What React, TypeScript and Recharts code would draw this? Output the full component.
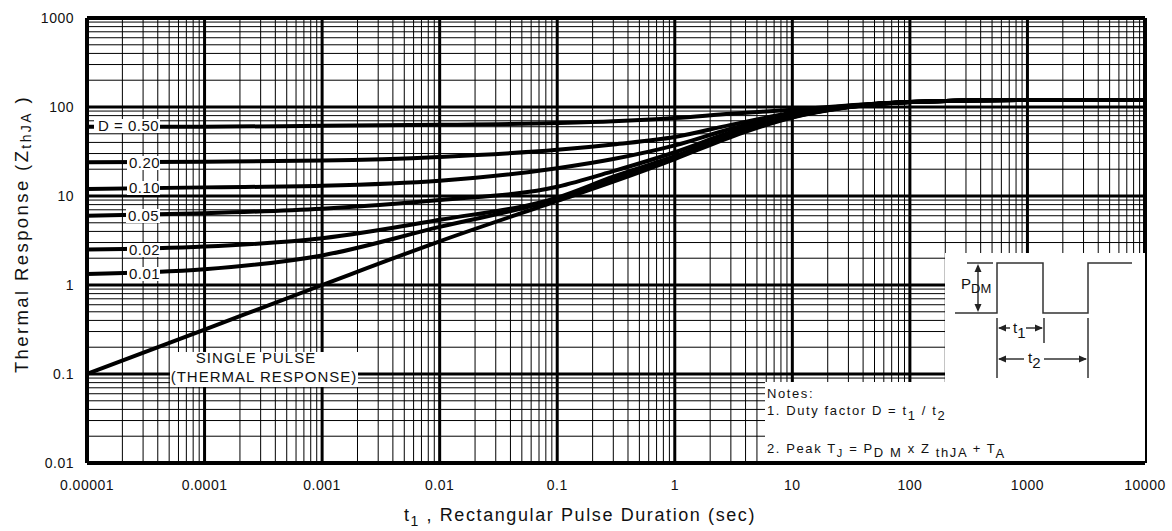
import React from 'react';
import { LineChart, Line, XAxis, YAxis, ReferenceLine } from 'recharts';

// pulse duration t1 (sec) where the curves were read
const T_SEC = [1e-5, 1e-4, 1e-3, 1e-2, 1e-1, 0.3, 1, 3, 10, 30, 100, 1000, 1e4];
// Z thJA, one list per duty factor
const D_050 = [60, 60, 61.5, 63, 66, 69, 75, 84, 93, 104, 114, 120, 120];
const D_020 = [24, 24.3, 25, 27.5, 33, 38, 46, 63, 86, 103, 114, 120, 120];
const D_010 = [12, 12.5, 13, 14.8, 20.5, 26, 37, 57, 83, 102, 114, 120, 120];
const D_005 = [6, 6.4, 7.2, 9, 12.7, 19, 31, 52, 80, 101, 114, 120, 120];
const D_002 = [2.5, 2.7, 3.35, 5.4, 9.6, 16.5, 28, 49, 78, 100, 114, 120, 120];
const D_001 = [1.33, 1.5, 2.15, 4.5, 9.3, 15.5, 27, 48, 77, 100, 114, 120, 120];
const SINGLE = [0.1, 0.316, 1.0, 3.1, 8.8, 14.5, 26, 46, 76, 99, 114, 120, 120];

const X_TICKS = [1e-5, 1e-4, 1e-3, 1e-2, 1e-1, 1, 10, 100, 1000, 10000];
const X_TICK_LABELS = ['0.00001', '0.0001', '0.001', '0.01', '0.1', '1', '10', '100', '1000', '10000'];
const Y_TICKS = [0.01, 0.1, 1, 10, 100, 1000];
const Y_TICK_LABELS = ['0.01', '0.1', '1', '10', '100', '1000'];
const MINOR_STEPS = [2, 3, 4, 5, 6, 7, 8, 9];

const SERIES = ['d050', 'd020', 'd010', 'd005', 'd002', 'd001', 'single'];

const FONT = '"Liberation Sans", Arial, sans-serif';

const data = T_SEC.map((t, i) => ({
  t,
  d050: D_050[i],
  d020: D_020[i],
  d010: D_010[i],
  d005: D_005[i],
  d002: D_002[i],
  d001: D_001[i],
  single: SINGLE[i],
}));

const xMinor = X_TICKS.slice(0, -1).flatMap(d => MINOR_STEPS.map(m => m * d));
const yMinor = Y_TICKS.slice(0, -1).flatMap(d => MINOR_STEPS.map(m => m * d));

const D_LABELS = [
  { text: 'D = 0.50', x: 98, y: 126, boxX: 94 },
  { text: '0.20', x: 129, y: 163, boxX: 127 },
  { text: '0.10', x: 129, y: 188, boxX: 127 },
  { text: '0.05', x: 128, y: 216, boxX: 126 },
  { text: '0.02', x: 129, y: 250, boxX: 127 },
  { text: '0.01', x: 129, y: 274, boxX: 127 },
];

const Arrow = ({ x, y, dir }: { x: number; y: number; dir: 'up' | 'down' | 'left' | 'right' }) => {
  const s = 8;
  const w = 3.5;
  let pts = '';
  if (dir === 'up') pts = `${x},${y} ${x - w},${y + s} ${x + w},${y + s}`;
  if (dir === 'down') pts = `${x},${y} ${x - w},${y - s} ${x + w},${y - s}`;
  if (dir === 'left') pts = `${x},${y} ${x + s},${y - w} ${x + s},${y + w}`;
  if (dir === 'right') pts = `${x},${y} ${x - s},${y - w} ${x - s},${y + w}`;
  return <polygon points={pts} fill="#222" />;
};

function Overlay() {
  const ln = { stroke: '#333', strokeWidth: 1.5, fill: 'none' };
  return (
    <svg width={1172} height={531} style={{ position: 'absolute', left: 0, top: 0, pointerEvents: 'none' }} fontFamily={FONT}>
      {/* curve labels */}
      {D_LABELS.map(l => (
        <g key={l.text}>
          <rect x={l.boxX} y={l.y - 7} width={160 - l.boxX} height={14} fill="#fff" />
          <text x={l.x} y={l.y + 5} fontSize={15} letterSpacing={0.5} fill="#111">{l.text}</text>
        </g>
      ))}
      <rect x={170} y={352} width={188} height={35} fill="#fff" />
      <text x={256} y={363} fontSize={15} letterSpacing={1} textAnchor="middle" fill="#111">SINGLE PULSE</text>
      <text x={264} y={382} fontSize={15} letterSpacing={1} textAnchor="middle" fill="#111">(THERMAL RESPONSE)</text>

      {/* inset and notes */}
      <rect x={945} y={253} width={200} height={130} fill="#fff" />
      <rect x={765} y={382} width={380} height={79} fill="#fff" />
      <polyline points="955,313 997,313 997,263 1043,263 1043,313 1088,313 1088,263 1132,263" {...ln} />
      <line x1={967} y1={263} x2={993} y2={263} {...ln} />
      <line x1={978} y1={266} x2={978} y2={310} {...ln} />
      <Arrow x={978} y={264} dir="up" />
      <Arrow x={978} y={312} dir="down" />
      <text x={961} y={289} fontSize={15} fill="#111">P<tspan dy={4} fontSize={13}>DM</tspan></text>
      <line x1={997} y1={318} x2={997} y2={378} {...ln} />
      <line x1={1044} y1={318} x2={1044} y2={343} {...ln} />
      <line x1={1088} y1={318} x2={1088} y2={378} {...ln} />
      <line x1={999} y1={328} x2={1010} y2={328} {...ln} />
      <line x1={1026} y1={328} x2={1042} y2={328} {...ln} />
      <Arrow x={998} y={328} dir="left" />
      <Arrow x={1043} y={328} dir="right" />
      <text x={1013} y={333} fontSize={15} fill="#111">t<tspan dy={5} fontSize={15}>1</tspan></text>
      <line x1={999} y1={359} x2={1024} y2={359} {...ln} />
      <line x1={1044} y1={359} x2={1086} y2={359} {...ln} />
      <Arrow x={998} y={359} dir="left" />
      <Arrow x={1087} y={359} dir="right" />
      <text x={1028} y={363} fontSize={15} fill="#111">t<tspan dy={5} fontSize={15}>2</tspan></text>

      <text x={767} y={398} fontSize={13} letterSpacing={1.6} fill="#111">Notes:</text>
      <text x={767} y={415} fontSize={13} letterSpacing={1.6} fill="#111">
        1. Duty factor D =  t<tspan dy={5}>1</tspan><tspan dy={-5}> / t</tspan><tspan dy={5}>2</tspan>
      </text>
      <text x={767} y={453} fontSize={13} letterSpacing={1.6} fill="#111">
        2. Peak T<tspan dy={4} fontSize={11}>J</tspan><tspan dy={-4}> = P</tspan><tspan dy={4}>D M</tspan>
        <tspan dy={-4}> x Z </tspan><tspan dy={4}>thJA</tspan><tspan dy={-4}> + T</tspan><tspan dy={5}>A</tspan>
      </text>

      {/* axis titles */}
      <text transform="rotate(-90, 21, 234)" x={21} y={234} fontSize={18.5} letterSpacing={2.4} textAnchor="middle" dominantBaseline="central" fill="#111">
        Thermal Response (Z<tspan dy={5} fontSize={14}>thJA</tspan><tspan dy={-5}> )</tspan>
      </text>
      <text x={580} y={521} fontSize={18} letterSpacing={1.6} textAnchor="middle" fill="#111">
        t<tspan dy={5} fontSize={14}>1</tspan><tspan dy={-5}> , Rectangular Pulse Duration (sec)</tspan>
      </text>
    </svg>
  );
}

export default function App() {
  return (
    <div style={{ position: 'absolute', left: 0, top: 0, width: 1172, height: 531, background: '#fff' }}>
      <LineChart width={1172} height={531} data={data} margin={{ top: 18, right: 27, bottom: 0, left: 0 }}>
        <XAxis
          dataKey="t"
          type="number"
          scale="log"
          domain={[1e-5, 1e4]}
          allowDataOverflow
          ticks={X_TICKS}
          interval={0}
          height={68}
          tickLine={false}
          axisLine={false}
          tickSize={0}
          tickMargin={17}
          tick={{ fontSize: 14, fill: '#111', fontFamily: FONT, letterSpacing: 0.5 }}
          tickFormatter={v => X_TICK_LABELS[X_TICKS.indexOf(v)] ?? String(v)}
        />
        <YAxis
          type="number"
          scale="log"
          domain={[0.01, 1000]}
          allowDataOverflow
          ticks={Y_TICKS}
          interval={0}
          width={87}
          tickLine={false}
          axisLine={false}
          tickSize={0}
          tickMargin={13}
          tick={{ fontSize: 14, fill: '#111', fontFamily: FONT, letterSpacing: 0.5 }}
          tickFormatter={v => Y_TICK_LABELS[Y_TICKS.indexOf(v)] ?? String(v)}
        />
        {xMinor.map(v => <ReferenceLine key={'xm' + v} x={v} stroke="#000" strokeWidth={1} />)}
        {yMinor.map(v => <ReferenceLine key={'ym' + v} y={v} stroke="#000" strokeWidth={1} />)}
        {X_TICKS.slice(1, -1).map(v => <ReferenceLine key={'xM' + v} x={v} stroke="#000" strokeWidth={3} />)}
        {Y_TICKS.slice(1, -1).map(v => <ReferenceLine key={'yM' + v} y={v} stroke="#000" strokeWidth={3} />)}
        {SERIES.map(k => (
          <Line key={k} dataKey={k} type="monotone" stroke="#000" strokeWidth={4} dot={false} isAnimationActive={false} />
        ))}
        <ReferenceLine x={1e-5} stroke="#000" strokeWidth={4} />
        <ReferenceLine x={1e4} stroke="#000" strokeWidth={4} />
        <ReferenceLine y={0.01} stroke="#000" strokeWidth={4} />
        <ReferenceLine y={1000} stroke="#000" strokeWidth={4} />
      </LineChart>
      <Overlay />
    </div>
  );
}
